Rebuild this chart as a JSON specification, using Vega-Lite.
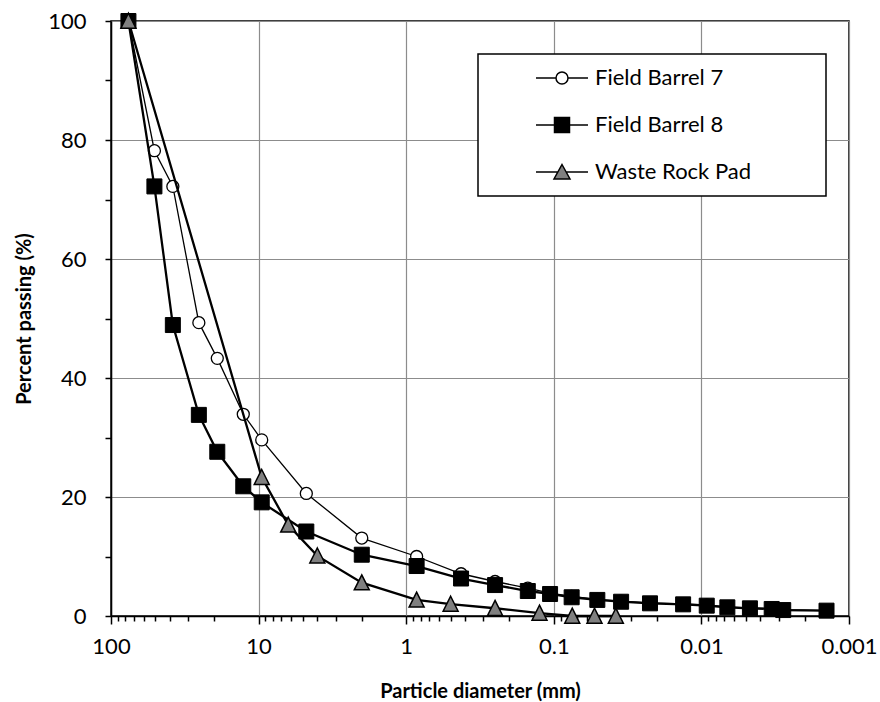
{
  "$schema": "https://vega.github.io/schema/vega-lite/v6.json",
  "width": 738,
  "height": 595,
  "autosize": {"type": "none"},
  "padding": {"left": 111, "top": 21, "right": 31, "bottom": 86},
  "background": "white",
  "config": {
    "view": {"stroke": "black", "strokeWidth": 1.5},
    "font": "Lato",
    "axis": {
      "domainColor": "black", "domainWidth": 1.5,
      "tickColor": "black", "tickWidth": 1.5,
      "gridColor": "#8c8c8c", "gridWidth": 1.2,
      "labelFont": "Lato", "labelFontSize": 22, "labelColor": "black",
      "titleFont": "Lato", "titleFontSize": 20, "titleFontWeight": "bold", "titleColor": "black"
    },
    "legend": {
      "orient": "none", "legendX": 367, "legendY": 33,
      "padding": 13, "strokeColor": "black", "strokeWidth": 1.5, "fillColor": "white",
      "labelFont": "Lato", "labelFontSize": 22, "labelColor": "black",
      "symbolOffset": 60, "labelOffset": 22, "rowPadding": 25, "symbolStrokeWidth": 1.5, "symbolSize": 144
    }
  },
  "data": {
    "values": [
      {"s": "Field Barrel 7", "d": 76.2, "p": 100},
      {"s": "Field Barrel 7", "d": 50.8, "p": 78.2},
      {"s": "Field Barrel 7", "d": 38.1, "p": 72.2},
      {"s": "Field Barrel 7", "d": 25.4, "p": 49.3},
      {"s": "Field Barrel 7", "d": 19.05, "p": 43.3},
      {"s": "Field Barrel 7", "d": 12.7, "p": 33.9},
      {"s": "Field Barrel 7", "d": 9.525, "p": 29.6},
      {"s": "Field Barrel 7", "d": 4.75, "p": 20.6},
      {"s": "Field Barrel 7", "d": 2.0, "p": 13.1},
      {"s": "Field Barrel 7", "d": 0.85, "p": 10.0},
      {"s": "Field Barrel 7", "d": 0.425, "p": 7.1},
      {"s": "Field Barrel 7", "d": 0.25, "p": 5.8},
      {"s": "Field Barrel 7", "d": 0.15, "p": 4.7},
      {"s": "Field Barrel 7", "d": 0.106, "p": 3.85},
      {"s": "Field Barrel 7", "d": 0.0757, "p": 3.3},
      {"s": "Field Barrel 7", "d": 0.0507, "p": 2.8},
      {"s": "Field Barrel 7", "d": 0.035, "p": 2.5},
      {"s": "Field Barrel 7", "d": 0.0223, "p": 2.2},
      {"s": "Field Barrel 7", "d": 0.0133, "p": 2.05},
      {"s": "Field Barrel 7", "d": 0.0092, "p": 1.85},
      {"s": "Field Barrel 7", "d": 0.00667, "p": 1.55},
      {"s": "Field Barrel 7", "d": 0.00469, "p": 1.35},
      {"s": "Field Barrel 7", "d": 0.00334, "p": 1.25},
      {"s": "Field Barrel 7", "d": 0.00279, "p": 1.05},
      {"s": "Field Barrel 7", "d": 0.00142, "p": 0.9},
      {"s": "Field Barrel 8", "d": 76.2, "p": 100},
      {"s": "Field Barrel 8", "d": 50.8, "p": 72.2},
      {"s": "Field Barrel 8", "d": 38.1, "p": 48.9},
      {"s": "Field Barrel 8", "d": 25.4, "p": 33.8},
      {"s": "Field Barrel 8", "d": 19.05, "p": 27.6},
      {"s": "Field Barrel 8", "d": 12.7, "p": 21.8},
      {"s": "Field Barrel 8", "d": 9.525, "p": 19.1},
      {"s": "Field Barrel 8", "d": 4.75, "p": 14.2},
      {"s": "Field Barrel 8", "d": 2.0, "p": 10.3},
      {"s": "Field Barrel 8", "d": 0.85, "p": 8.4},
      {"s": "Field Barrel 8", "d": 0.425, "p": 6.3},
      {"s": "Field Barrel 8", "d": 0.25, "p": 5.2},
      {"s": "Field Barrel 8", "d": 0.15, "p": 4.2},
      {"s": "Field Barrel 8", "d": 0.106, "p": 3.7},
      {"s": "Field Barrel 8", "d": 0.0757, "p": 3.15},
      {"s": "Field Barrel 8", "d": 0.0507, "p": 2.7},
      {"s": "Field Barrel 8", "d": 0.035, "p": 2.4},
      {"s": "Field Barrel 8", "d": 0.0223, "p": 2.13},
      {"s": "Field Barrel 8", "d": 0.0133, "p": 1.96},
      {"s": "Field Barrel 8", "d": 0.0092, "p": 1.74},
      {"s": "Field Barrel 8", "d": 0.00667, "p": 1.46},
      {"s": "Field Barrel 8", "d": 0.00469, "p": 1.29},
      {"s": "Field Barrel 8", "d": 0.00334, "p": 1.18},
      {"s": "Field Barrel 8", "d": 0.00279, "p": 1.0},
      {"s": "Field Barrel 8", "d": 0.00142, "p": 0.9},
      {"s": "Waste Rock Pad", "d": 76.2, "p": 100},
      {"s": "Waste Rock Pad", "d": 9.525, "p": 23.3},
      {"s": "Waste Rock Pad", "d": 6.3, "p": 15.3},
      {"s": "Waste Rock Pad", "d": 4.0, "p": 10.1},
      {"s": "Waste Rock Pad", "d": 2.0, "p": 5.6},
      {"s": "Waste Rock Pad", "d": 0.85, "p": 2.7},
      {"s": "Waste Rock Pad", "d": 0.5, "p": 2.0},
      {"s": "Waste Rock Pad", "d": 0.25, "p": 1.3},
      {"s": "Waste Rock Pad", "d": 0.125, "p": 0.5},
      {"s": "Waste Rock Pad", "d": 0.075, "p": 0.0},
      {"s": "Waste Rock Pad", "d": 0.053, "p": 0.0},
      {"s": "Waste Rock Pad", "d": 0.038, "p": 0.0}
    ]
  },
  "encoding": {
    "x": {
      "field": "d", "type": "quantitative",
      "scale": {"type": "log", "domain": [0.001, 100], "reverse": true},
      "title": "Particle diameter (mm)",
      "axis": {
        "values": [100,90,80,70,60,50,40,30,20,10,9,8,7,6,5,4,3,2,1,0.9,0.8,0.7,0.6,0.5,0.4,0.3,0.2,0.1,0.09,0.08,0.07,0.06,0.05,0.04,0.03,0.02,0.01,0.009,0.008,0.007,0.006,0.005,0.004,0.003,0.002,0.001],
        "grid": true,
        "gridOpacity": {"condition": {"test": "abs(log(datum.value)/LN10 - round(log(datum.value)/LN10)) < 1e-6", "value": 1}, "value": 0},
        "tickSize": {"condition": {"test": "abs(log(datum.value)/LN10 - round(log(datum.value)/LN10)) < 1e-6", "value": 8}, "value": 5},
        "labelExpr": "abs(log(datum.value)/LN10 - round(log(datum.value)/LN10)) < 1e-6 ? format(datum.value, '~g') : ''",
        "labelPadding": 12,
        "labelFlush": false,
        "labelOverlap": false,
        "titlePadding": 24
      }
    },
    "y": {
      "field": "p", "type": "quantitative",
      "scale": {"domain": [0, 100], "nice": false},
      "title": "Percent passing (%)",
      "axis": {
        "values": [0,10,20,30,40,50,60,70,80,90,100],
        "grid": true,
        "gridOpacity": {"condition": {"test": "datum.value % 20 === 0", "value": 1}, "value": 0},
        "labelExpr": "datum.value % 20 === 0 ? datum.label : ''",
        "tickSize": 6,
        "labelPadding": 19,
        "titlePadding": 13
      }
    }
  },
  "layer": [
    {
      "transform": [{"filter": "datum.s === 'Field Barrel 7'"}],
      "mark": {"type": "line", "color": "black", "strokeWidth": 1.3}
    },
    {
      "transform": [{"filter": "datum.s === 'Field Barrel 7'"}],
      "mark": {"type": "point", "shape": "circle", "filled": true, "fill": "white", "size": 144, "stroke": "black", "strokeWidth": 1.3, "opacity": 1}
    },
    {
      "transform": [{"filter": "datum.s === 'Field Barrel 8'"}],
      "mark": {"type": "line", "color": "black", "strokeWidth": 2.3}
    },
    {
      "transform": [{"filter": "datum.s === 'Field Barrel 8'"}],
      "mark": {"type": "point", "shape": "square", "filled": true, "fill": "black", "size": 225, "stroke": "black", "strokeWidth": 1, "opacity": 1}
    },
    {
      "transform": [{"filter": "datum.s === 'Waste Rock Pad'"}],
      "mark": {"type": "line", "color": "black", "strokeWidth": 2.3}
    },
    {
      "transform": [{"filter": "datum.s === 'Waste Rock Pad'"}],
      "mark": {"type": "point", "shape": "M0,-1.05L1,0.95L-1,0.95Z", "filled": true, "fill": "#808080", "size": 225, "stroke": "black", "strokeWidth": 1.5, "opacity": 1}
    },
    {
      "transform": [{"filter": "datum.d < 0"}],
      "mark": {"type": "point", "filled": true, "size": 144, "stroke": "black", "strokeWidth": 1.5, "opacity": 1},
      "encoding": {
        "shape": {"field": "s", "type": "nominal",
          "scale": {"domain": ["Field Barrel 7", "Field Barrel 8", "Waste Rock Pad"],
            "range": [
              "M-4.333,0H-1M1,0A1,1,0,1,1,-1,0A1,1,0,1,1,1,0M1,0H4.333M41.2,0",
              "M-4.333,0H-1.25M1.25,0H4.333M-1.25,-1.25H1.25V1.25H-1.25ZM41.2,0",
              "M-4.333,0H-0.694M0.694,0H4.333M0,-1.25L1.333,1.15L-1.333,1.15ZM41.2,0"
            ]},
          "legend": {"title": null}},
        "fill": {"field": "s", "type": "nominal",
          "scale": {"domain": ["Field Barrel 7", "Field Barrel 8", "Waste Rock Pad"], "range": ["white", "black", "#808080"]},
          "legend": {"title": null}}
      }
    }
  ]
}
